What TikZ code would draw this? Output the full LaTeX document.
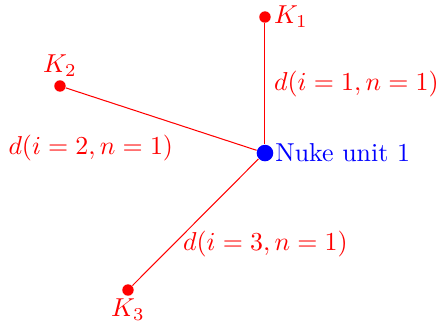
\documentclass[tikz,border=0pt]{standalone}
\usetikzlibrary{positioning}
\definecolor{kred}{HTML}{FF0000}
\definecolor{nblue}{HTML}{0000FF}

\begin{document}
\begin{tikzpicture}[
    kdot/.style={
        circle,
        fill=kred,
        inner sep=0pt,
        minimum size=4.4pt
    },
    unitdot/.style={
        circle,
        fill=nblue,
        inner sep=0pt,
        minimum size=6.4pt
    },
    link/.style={draw=kred, line width=0.4pt},
    dlabel/.style={text=kred},
    kname/.style={text=kred}
]
\useasboundingbox (0,0) rectangle (5.985,4.397);

% Nuke unit and the three points around it.
\node[unitdot] (unit) at (3.596,2.320) {};
\node[kdot] (K1) at (3.596,4.166) {};
\node[kdot] (K2) at (0.814,3.230) {};
\node[kdot] (K3) at (1.737,0.461) {};

\node[right, text=nblue, xshift=0.5pt] (unitName) at (unit.center) {Nuke unit 1};
\node[kname, right] (k1Name) at (K1.center) {$K_1$};
\node[kname, above] (k2Name) at (K2.center) {$K_2$};
\node[kname, below] (k3Name) at (K3.center) {$K_3$};

% Distances.
\draw[link] (K1) -- node[dlabel, right] (d1) {$d(i=1,n=1)$} (unit);
\draw[link] (K2) -- node[dlabel, pos=0.61, below left] (d2) {$d(i=2,n=1)$} (unit);
\draw[link] (unit) -- node[dlabel, pos=0.67, right] (d3) {$d(i=3,n=1)$} (K3);

\end{tikzpicture}
\end{document}
